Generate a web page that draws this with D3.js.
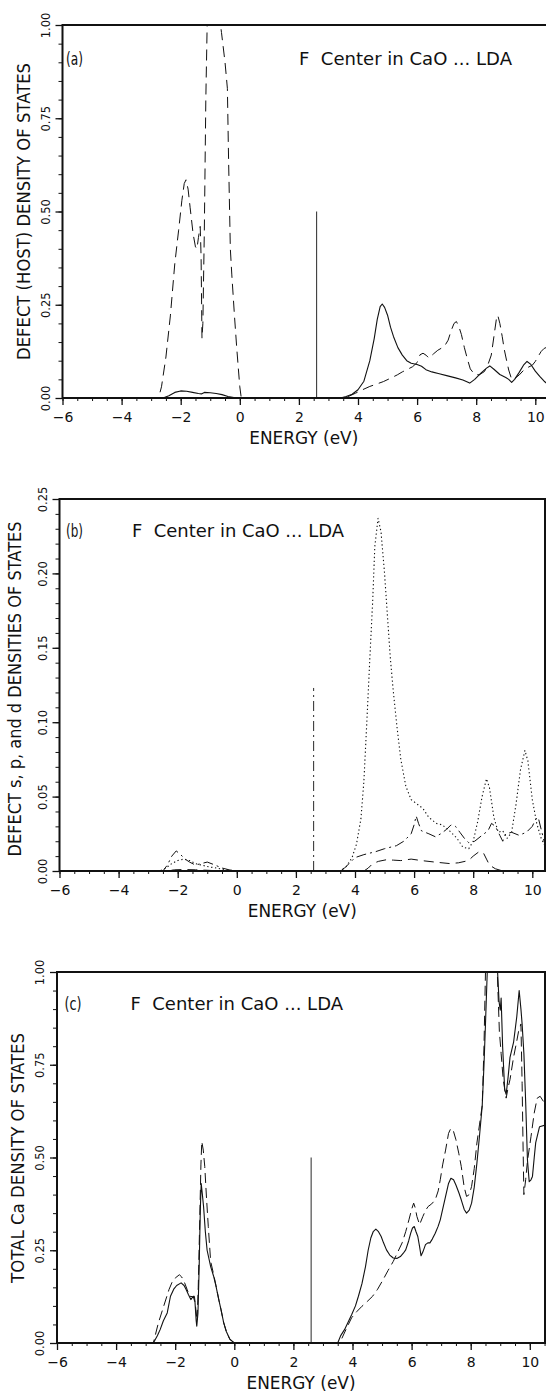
<!DOCTYPE html>
<html><head><meta charset="utf-8">
<script src="https://cdn.jsdelivr.net/npm/d3@7"></script>
<style>
html,body{margin:0;padding:0;background:#fff;}
svg{display:block;}
text{font-family:"DejaVu Sans",sans-serif;fill:#111;}
</style></head><body>
<svg id="chart" width="546" height="1395"></svg>
<script>
// ---------------- DATA ----------------
const xMajorTicks = [-6,-4,-2,0,2,4,6,8,10];
const yTicksA = [0,0.25,0.5,0.75,1.0];
const yTicksB = [0,0.05,0.10,0.15,0.20,0.25];
const yTicksC = [0,0.25,0.5,0.75,1.0];
const panelLabels = ["(a)","(b)","(c)"];
const panelTitle = "F  Center in CaO ... LDA";
const yTitles = ["DEFECT (HOST) DENSITY OF STATES","DEFECT s, p, and d DENSITIES OF STATES","TOTAL Ca DENSITY OF STATES"];
const xTitle = "ENERGY (eV)";
const impulseEnergy = 2.6;
const impulseHeights = [0.5, 0.123, 0.5];

// panel (a): defect (solid) and host (dashed) DOS, [energy, value]
const aDefect = [[-6,0],[-2.6,0],[-2.4,0.006],[-2.2,0.015],[-2.0,0.019],[-1.8,0.018],[-1.6,0.015],[-1.4,0.012],[-1.3,0.011],[-1.2,0.015],[-1.0,0.014],[-0.8,0.012],[-0.6,0.009],[-0.4,0.004],[-0.2,0.001],[0,0],[3.4,0],[3.6,0.004],[3.8,0.01],[4.0,0.022],[4.2,0.045],[4.4,0.1],[4.55,0.16],[4.65,0.21],[4.75,0.245],[4.82,0.252],[4.9,0.243],[5.0,0.222],[5.1,0.19],[5.2,0.165],[5.35,0.135],[5.5,0.115],[5.65,0.1],[5.8,0.093],[6.0,0.09],[6.15,0.085],[6.3,0.076],[6.5,0.07],[6.75,0.065],[7.0,0.06],[7.3,0.054],[7.55,0.048],[7.78,0.04],[7.95,0.05],[8.15,0.066],[8.35,0.08],[8.46,0.086],[8.6,0.077],[8.8,0.063],[9.0,0.055],[9.1,0.05],[9.2,0.042],[9.3,0.05],[9.45,0.068],[9.6,0.088],[9.72,0.098],[9.85,0.09],[10.0,0.072],[10.15,0.058],[10.3,0.045],[10.45,0.035]];
const aHost = [[-6,0],[-2.75,0],[-2.65,0.03],[-2.5,0.11],[-2.35,0.22],[-2.2,0.36],[-2.07,0.45],[-1.96,0.53],[-1.88,0.575],[-1.82,0.585],[-1.75,0.56],[-1.68,0.51],[-1.58,0.44],[-1.5,0.405],[-1.45,0.4],[-1.4,0.43],[-1.34,0.46],[-1.31,0.38],[-1.28,0.16],[-1.25,0.2],[-1.2,0.45],[-1.15,0.8],[-1.1,1.02],[-1.0,1.15],[-0.85,1.12],[-0.7,1.03],[-0.62,0.98],[-0.5,0.9],[-0.42,0.83],[-0.38,0.64],[-0.32,0.4],[-0.27,0.33],[-0.18,0.22],[-0.1,0.13],[0,0.03],[0.05,0],[3.5,0],[3.7,0.005],[3.92,0.013],[4.15,0.022],[4.4,0.031],[4.65,0.038],[4.86,0.044],[5.1,0.053],[5.33,0.062],[5.5,0.07],[5.68,0.077],[5.85,0.084],[6.0,0.095],[6.1,0.116],[6.2,0.12],[6.3,0.115],[6.4,0.107],[6.55,0.118],[6.7,0.128],[6.92,0.138],[7.05,0.155],[7.15,0.18],[7.25,0.2],[7.33,0.205],[7.42,0.19],[7.5,0.17],[7.6,0.135],[7.7,0.105],[7.8,0.078],[7.95,0.063],[8.1,0.062],[8.28,0.071],[8.4,0.09],[8.51,0.115],[8.6,0.165],[8.68,0.21],[8.73,0.222],[8.8,0.2],[8.88,0.165],[8.95,0.13],[9.03,0.1],[9.1,0.075],[9.2,0.05],[9.3,0.052],[9.46,0.062],[9.6,0.074],[9.75,0.082],[9.9,0.088],[10.0,0.098],[10.1,0.112],[10.2,0.125],[10.3,0.133],[10.45,0.138]];

// panel (b): defect s (dotted), p (dash-dot), d (long dash)
const bS = [[-6,0],[-2.6,0],[-2.4,0.002],[-2.2,0.005],[-2.0,0.007],[-1.8,0.008],[-1.6,0.007],[-1.4,0.005],[-1.2,0.004],[-1.0,0.003],[-0.7,0.002],[-0.4,0.001],[0,0],[3.5,0],[3.7,0.003],[3.9,0.009],[4.05,0.018],[4.2,0.035],[4.3,0.06],[4.4,0.1],[4.5,0.142],[4.6,0.182],[4.67,0.218],[4.78,0.237],[4.88,0.228],[5.0,0.2],[5.12,0.165],[5.2,0.142],[5.3,0.12],[5.42,0.097],[5.55,0.075],[5.72,0.057],[5.9,0.048],[6.1,0.045],[6.3,0.042],[6.5,0.036],[6.75,0.032],[6.95,0.031],[7.2,0.027],[7.45,0.022],[7.65,0.016],[7.85,0.015],[8.0,0.02],[8.15,0.033],[8.3,0.05],[8.45,0.062],[8.55,0.056],[8.7,0.036],[8.85,0.026],[9.0,0.027],[9.15,0.022],[9.3,0.026],[9.45,0.045],[9.6,0.068],[9.75,0.081],[9.85,0.074],[10.0,0.048],[10.15,0.032],[10.3,0.022],[10.45,0.016]];
const bP = [[-6,0],[-2.5,0],[-2.35,0.004],[-2.2,0.01],[-2.05,0.0135],[-1.9,0.011],[-1.75,0.008],[-1.6,0.006],[-1.4,0.004],[-1.2,0.005],[-1.0,0.006],[-0.8,0.0045],[-0.5,0.002],[-0.2,0.0005],[0,0],[3.5,0],[3.65,0.002],[3.8,0.005],[4.0,0.009],[4.3,0.011],[4.7,0.013],[5.0,0.015],[5.4,0.017],[5.65,0.02],[5.9,0.025],[6.0,0.031],[6.07,0.037],[6.15,0.032],[6.25,0.027],[6.5,0.025],[6.72,0.023],[6.9,0.025],[7.1,0.028],[7.25,0.031],[7.4,0.03],[7.55,0.026],[7.7,0.022],[7.85,0.019],[8.05,0.02],[8.3,0.024],[8.5,0.027],[8.62,0.032],[8.75,0.03],[8.9,0.024],[9.0,0.02],[9.1,0.025],[9.3,0.026],[9.55,0.024],[9.8,0.026],[10.0,0.03],[10.12,0.035],[10.2,0.036],[10.3,0.028],[10.45,0.016]];
const bD = [[-6,0],[-2.4,0],[-2.1,0.0008],[-1.8,0.001],[-1.4,0.0008],[-1.0,0.0005],[-0.5,0],[4.3,0],[4.45,0.002],[4.6,0.005],[4.8,0.0065],[5.07,0.0076],[5.3,0.0073],[5.55,0.007],[5.9,0.008],[6.25,0.007],[6.7,0.006],[7.2,0.005],[7.5,0.0055],[7.84,0.007],[8.0,0.01],[8.2,0.013],[8.35,0.012],[8.45,0.008],[8.55,0.004],[8.75,0.0015],[9.0,0],[10.45,0]];

// panel (c): total Ca DOS, defect crystal (solid) and host (dashed)
const cDefect = [[-6,0],[-2.74,0],[-2.6,0.02],[-2.51,0.036],[-2.4,0.06],[-2.27,0.081],[-2.16,0.126],[-2.05,0.145],[-1.95,0.155],[-1.8,0.162],[-1.7,0.155],[-1.63,0.144],[-1.55,0.13],[-1.47,0.117],[-1.39,0.126],[-1.33,0.11],[-1.29,0.06],[-1.27,0.045],[-1.23,0.08],[-1.19,0.2],[-1.15,0.36],[-1.12,0.43],[-1.08,0.4],[-1.04,0.368],[-0.98,0.3],[-0.92,0.25],[-0.8,0.206],[-0.7,0.18],[-0.62,0.153],[-0.52,0.115],[-0.45,0.09],[-0.36,0.055],[-0.27,0.031],[-0.15,0.01],[-0.04,0.003],[0,0],[3.5,0],[3.6,0.02],[3.73,0.036],[3.85,0.056],[3.97,0.076],[4.1,0.1],[4.2,0.126],[4.32,0.16],[4.44,0.206],[4.53,0.25],[4.62,0.283],[4.7,0.3],[4.79,0.307],[4.88,0.3],[4.97,0.287],[5.05,0.27],[5.15,0.251],[5.26,0.237],[5.38,0.229],[5.5,0.228],[5.62,0.233],[5.72,0.242],[5.8,0.251],[5.9,0.275],[5.97,0.296],[6.03,0.31],[6.09,0.314],[6.15,0.3],[6.21,0.287],[6.27,0.26],[6.32,0.235],[6.38,0.245],[6.47,0.265],[6.55,0.27],[6.62,0.27],[6.7,0.28],[6.8,0.296],[6.9,0.315],[6.97,0.332],[7.05,0.36],[7.15,0.395],[7.25,0.43],[7.33,0.444],[7.42,0.44],[7.5,0.426],[7.6,0.405],[7.68,0.386],[7.78,0.36],[7.86,0.35],[7.95,0.358],[8.03,0.377],[8.12,0.42],[8.21,0.485],[8.3,0.56],[8.39,0.64],[8.45,0.75],[8.5,0.86],[8.56,1.0],[8.65,1.1],[8.8,1.08],[8.91,1.0],[8.96,0.92],[9.0,0.897],[9.03,0.93],[9.08,0.8],[9.15,0.683],[9.2,0.67],[9.27,0.72],[9.33,0.77],[9.45,0.81],[9.56,0.88],[9.64,0.95],[9.7,0.9],[9.74,0.86],[9.8,0.78],[9.86,0.65],[9.92,0.494],[9.98,0.435],[10.04,0.44],[10.09,0.449],[10.15,0.5],[10.2,0.54],[10.33,0.583],[10.55,0.588]];
const cHost = [[-6,0],[-2.74,0],[-2.57,0.054],[-2.39,0.099],[-2.21,0.144],[-2.1,0.165],[-2.0,0.175],[-1.86,0.184],[-1.78,0.178],[-1.68,0.162],[-1.6,0.145],[-1.51,0.126],[-1.42,0.125],[-1.35,0.126],[-1.3,0.09],[-1.26,0.06],[-1.22,0.15],[-1.17,0.33],[-1.13,0.48],[-1.1,0.543],[-1.05,0.52],[-1.0,0.476],[-0.94,0.39],[-0.88,0.314],[-0.8,0.22],[-0.7,0.185],[-0.62,0.155],[-0.52,0.115],[-0.45,0.09],[-0.36,0.055],[-0.27,0.031],[-0.15,0.01],[0,0],[3.55,0],[3.62,0.009],[3.8,0.04],[3.97,0.068],[4.15,0.085],[4.32,0.099],[4.5,0.112],[4.68,0.126],[4.85,0.145],[5.03,0.17],[5.2,0.195],[5.38,0.22],[5.53,0.245],[5.68,0.27],[5.8,0.3],[5.91,0.332],[6.0,0.36],[6.07,0.377],[6.12,0.365],[6.18,0.341],[6.27,0.319],[6.38,0.341],[6.47,0.357],[6.56,0.368],[6.68,0.375],[6.8,0.386],[6.9,0.41],[6.97,0.44],[7.05,0.48],[7.15,0.52],[7.25,0.565],[7.33,0.579],[7.42,0.57],[7.5,0.548],[7.6,0.51],[7.68,0.476],[7.78,0.42],[7.86,0.395],[7.95,0.4],[8.03,0.422],[8.12,0.47],[8.21,0.539],[8.3,0.59],[8.39,0.64],[8.45,0.8],[8.5,1.0],[8.6,1.12],[8.8,1.1],[8.9,1.0],[8.97,0.84],[9.03,0.78],[9.1,0.71],[9.2,0.66],[9.27,0.69],[9.33,0.71],[9.45,0.77],[9.55,0.81],[9.62,0.84],[9.7,0.86],[9.74,0.7],[9.77,0.54],[9.8,0.4],[9.86,0.44],[9.92,0.49],[10.04,0.556],[10.15,0.62],[10.25,0.66],[10.35,0.665],[10.55,0.64]];

// ---------------- LAYOUT ----------------
const UNIT = 29.55; // px per eV
const panels = [
  {left:62.5, top:25,  bottom:398,  right:549, yMax:1.0,  yTicks:yTicksA, yMinorStep:0.05,
   labelX:66, titleX:299, titleW:213, textY:65, yTitleX:30, yTitleCY:211.5, yTitleLen:297,
   series:[{d:aDefect,dash:null,w:1.1},{d:aHost,dash:"11,6",w:1.0}], impulseDash:null},
  {left:59.5, top:499, bottom:871,  right:545, yMax:0.25, yTicks:yTicksB, yMinorStep:0.01,
   labelX:66, titleX:132, titleW:212, textY:537, yTitleX:21, yTitleCY:689, yTitleLen:335,
   series:[{d:bS,dash:"1.3,2.6",w:1.1},{d:bP,dash:"10,4,2,4",w:1.0},{d:bD,dash:"10,6",w:1.0}], impulseDash:"10,4,2,4"},
  {left:57,   top:972, bottom:1343, right:545, yMax:1.0,  yTicks:yTicksC, yMinorStep:0.05,
   labelX:64.5, titleX:130.5, titleW:212.5, textY:1010, yTitleX:24, yTitleCY:1158, yTitleLen:250,
   series:[{d:cDefect,dash:null,w:1.1},{d:cHost,dash:"10,5",w:1.0}], impulseDash:null}
];

const svg = d3.select("#chart");
const fmtX = d3.format("d");
const fmtY = d3.format(".2f");

panels.forEach((p, i) => {
  const xMax = -6 + (p.right - p.left) / UNIT;
  const x = d3.scaleLinear().domain([-6, xMax]).range([p.left, p.right]);
  const y = d3.scaleLinear().domain([0, p.yMax]).range([p.bottom, p.top]);
  const g = svg.append("g");

  const clipId = "clip" + i;
  svg.append("clipPath").attr("id", clipId).append("rect")
    .attr("x", p.left).attr("y", p.top).attr("width", p.right - p.left).attr("height", p.bottom - p.top);

  const line = d3.line().x(d => x(d[0])).y(d => y(d[1]));
  const plot = g.append("g").attr("clip-path", `url(#${clipId})`);
  p.series.forEach(s => {
    plot.append("path").datum(s.d).attr("d", line)
      .attr("fill", "none").attr("stroke", "#111").attr("stroke-width", s.w)
      .attr("stroke-dasharray", s.dash).attr("stroke-linejoin", "round");
  });
  // defect level impulse
  plot.append("line")
    .attr("x1", x(impulseEnergy)).attr("x2", x(impulseEnergy))
    .attr("y1", y(0)).attr("y2", y(impulseHeights[i]))
    .attr("stroke", "#111").attr("stroke-width", 0.9).attr("stroke-dasharray", p.impulseDash);

  // x axis: minor ticks and major ticks
  const xMinor = d3.range(-6, xMax + 1e-9, 0.5);
  g.append("g").attr("transform", `translate(0,${p.bottom})`)
    .call(d3.axisBottom(x).tickValues(xMinor).tickSize(3).tickFormat(""))
    .call(a => a.select(".domain").remove())
    .call(a => a.selectAll("line").attr("stroke", "#111").attr("stroke-width", 1));
  const xa = g.append("g").attr("transform", `translate(0,${p.bottom})`)
    .call(d3.axisBottom(x).tickValues(xMajorTicks).tickSize(7).tickFormat(fmtX));
  xa.select(".domain").remove();
  xa.selectAll("line").attr("stroke", "#111").attr("stroke-width", 1.3);
  xa.selectAll("text").attr("y", 24).attr("dy", 0)
    .attr("font-family", "DejaVu Sans").attr("font-size", 14).attr("fill", "#111");

  // y axis
  const yMinor = d3.range(0, p.yMax + 1e-9, p.yMinorStep);
  g.append("g").attr("transform", `translate(${p.left},0)`)
    .call(d3.axisLeft(y).tickValues(yMinor).tickSize(4).tickFormat(""))
    .call(a => a.select(".domain").remove())
    .call(a => a.selectAll("line").attr("stroke", "#111").attr("stroke-width", 1));
  const ya = g.append("g").attr("transform", `translate(${p.left},0)`)
    .call(d3.axisLeft(y).tickValues(p.yTicks).tickSize(7).tickFormat(fmtY));
  ya.select(".domain").remove();
  ya.selectAll("line").attr("stroke", "#111").attr("stroke-width", 1.3);
  ya.selectAll("text").attr("x", 0).attr("dy", 0)
    .attr("transform", "translate(-13,0) rotate(-90)")
    .attr("text-anchor", "middle")
    .attr("font-family", "DejaVu Sans").attr("font-size", 11.5).attr("fill", "#111");

  // frame
  g.append("rect").attr("x", p.left).attr("y", p.top)
    .attr("width", p.right - p.left).attr("height", p.bottom - p.top)
    .attr("fill", "none").attr("stroke", "#111").attr("stroke-width", 2);

  // texts
  g.append("text").attr("x", p.labelX).attr("y", p.textY)
    .attr("font-size", 17).attr("textLength", 17).attr("lengthAdjust", "spacingAndGlyphs")
    .text(panelLabels[i]);
  g.append("text").attr("x", p.titleX).attr("y", p.textY)
    .attr("font-size", 17).attr("textLength", p.titleW).attr("lengthAdjust", "spacingAndGlyphs")
    .style("white-space", "pre").text(panelTitle);
  g.append("text")
    .attr("transform", `translate(${p.yTitleX},${p.yTitleCY}) rotate(-90)`)
    .attr("text-anchor", "middle").attr("font-size", 17)
    .attr("textLength", p.yTitleLen).attr("lengthAdjust", "spacingAndGlyphs")
    .text(yTitles[i]);
  g.append("text")
    .attr("x", (p.left + 545) / 2).attr("y", p.bottom + 46)
    .attr("text-anchor", "middle").attr("font-size", 17)
    .attr("textLength", 109).attr("lengthAdjust", "spacingAndGlyphs")
    .text(xTitle);
});
</script>
</body></html>
